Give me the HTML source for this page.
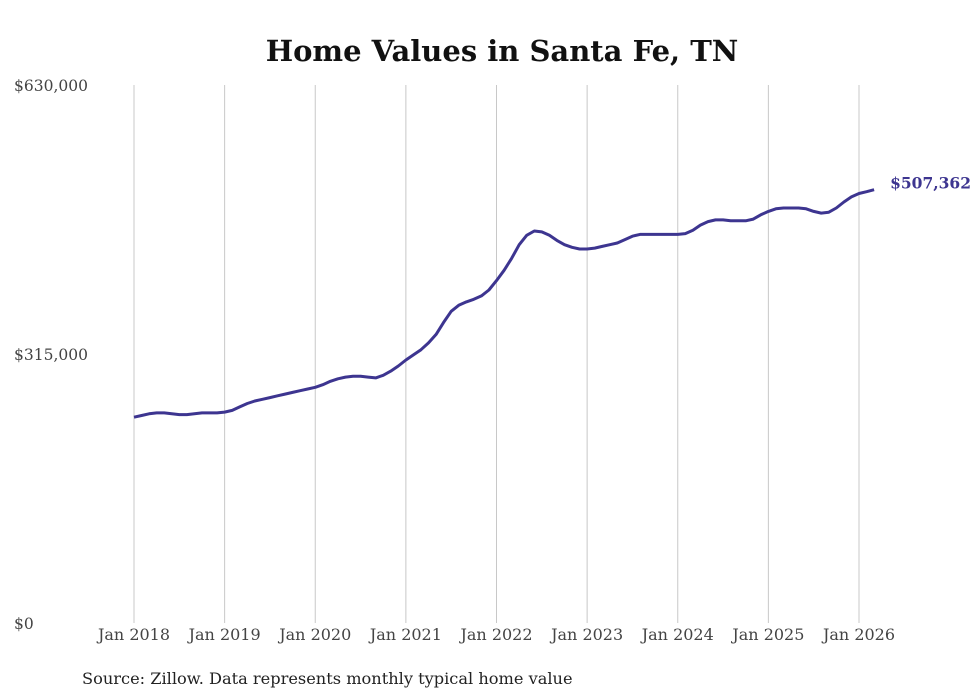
<!DOCTYPE html>
<html><head><meta charset="utf-8"><style>
body{margin:0;background:#fff;}
svg{display:block;font-family:"DejaVu Serif","Liberation Serif",serif;}
</style></head><body>
<svg id="chart" width="980" height="699">
<text x="502" y="61" text-anchor="middle" font-size="29" font-weight="bold" fill="#111">Home Values in Santa Fe, TN</text>
<g id="grid"></g><g id="yt"></g><g id="xt"></g><g id="series"></g>
<text x="82" y="684" font-size="16.2" fill="#222">Source: Zillow. Data represents monthly typical home value</text>
</svg>
<script>
const yearLabels=["Jan 2018","Jan 2019","Jan 2020","Jan 2021","Jan 2022","Jan 2023","Jan 2024","Jan 2025","Jan 2026"];
const yTicks=[0,315000,630000];
const yTickLabels=["$0","$315,000","$630,000"];
const values=[241000,243000,245000,246000,246000,245000,244000,244000,245000,246000,246000,246000,
247000,249000,253000,257000,260000,262000,264000,266000,268000,270000,272000,274000,
276000,279000,283000,286000,288000,289000,289000,288000,287000,290000,295000,301000,
308000,314000,320000,328000,338000,352000,365000,372000,376000,379000,383000,390000,
401000,413000,427000,443000,454000,459000,458000,454000,448000,443000,440000,438000,
438000,439000,441000,443000,445000,449000,453000,455000,455000,455000,455000,455000,
455000,456000,460000,466000,470000,472000,472000,471000,471000,471000,473000,478000,
482000,485000,486000,486000,486000,485000,482000,480000,481000,486000,493000,499000,
503000,505000,507362];
const lastLabel="$507,362";
const NS="http://www.w3.org/2000/svg";
const x0=134,pxMonth=(859-134)/96,yTop=85,yBot=623,yMax=630000;
const xs=i=>x0+i*pxMonth, ys=v=>yBot-v/yMax*(yBot-yTop);
function mk(t,a,p){const e=document.createElementNS(NS,t);for(const k in a)e.setAttribute(k,a[k]);p.appendChild(e);return e;}
const grid=document.getElementById('grid'),xt=document.getElementById('xt'),yt=document.getElementById('yt'),s=document.getElementById('series');
yearLabels.forEach((l,i)=>{
 const x=xs(i*12);
 const g=mk('line',{x1:x,x2:x,y1:yTop,y2:yBot,stroke:'#c8c8c8','stroke-width':1},grid);
 
 
 const t=mk('text',{x:x,y:640,'text-anchor':'middle','font-size':16,fill:'#444'},xt);
 t.textContent=l;
 
 
});
yTicks.forEach((v,i)=>{
 const t=mk('text',{x:14,y:ys(v)+6,'font-size':15.5,fill:'#444'},yt);
 t.textContent=yTickLabels[i];
 
 
});
const p=mk('path',{d:values.map((v,i)=>(i?'L':'M')+xs(i).toFixed(1)+','+ys(v).toFixed(1)).join(''),fill:'none',stroke:'#3d3590','stroke-width':3,'stroke-linejoin':'round'},s);


const n=values.length-1;
const lb=mk('text',{x:xs(n)+16,y:ys(values[n])-1,'font-size':15.5,'font-weight':'bold',fill:'#3d3590'},s);
lb.textContent=lastLabel;


</script>
</body></html>
